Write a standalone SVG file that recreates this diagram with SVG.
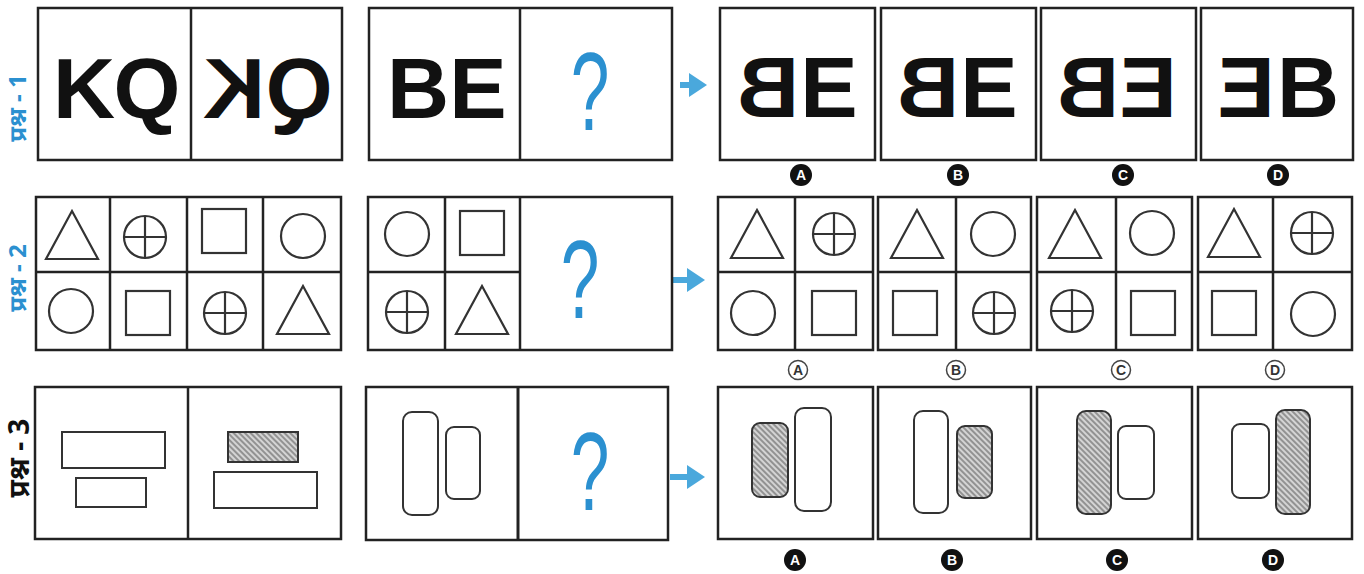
<svg xmlns="http://www.w3.org/2000/svg" width="1364" height="574" viewBox="0 0 1364 574">
<style>
.box{fill:#fff;stroke:#222;stroke-width:2.5}
.div{stroke:#222;stroke-width:2.5}
.sh{fill:none;stroke:#333;stroke-width:2.2}
.big{font-family:"Liberation Sans",Arial,sans-serif;font-weight:bold;font-size:86px;fill:#111;text-anchor:middle}
.q{font-family:"Liberation Sans",Arial,sans-serif;font-size:112px;fill:#2b90d0;text-anchor:middle}
.lab{font-family:"Noto Sans","DejaVu Sans",sans-serif;font-size:24px;font-weight:bold;text-anchor:middle}
.opf{fill:#111}
.opt{font-family:"Liberation Sans",Arial,sans-serif;font-weight:bold;font-size:14px;fill:#fff;text-anchor:middle}
.opo{fill:#fff;stroke:#444;stroke-width:1.5}
.opt2{font-family:"Liberation Sans",Arial,sans-serif;font-weight:bold;font-size:14px;fill:#333;text-anchor:middle}
.arr{stroke:#4aa8dc;stroke-width:6}
.rr{fill:#fff;stroke:#333;stroke-width:2}
.hr{fill:url(#hatch);stroke:#333;stroke-width:2}
</style>
<defs>
<pattern id="hatch" width="4" height="4" patternUnits="userSpaceOnUse" patternTransform="rotate(45)">
<rect width="4" height="4" fill="#d4d4d4"/>
<line x1="0" y1="1" x2="4" y2="1" stroke="#666" stroke-width="1.2"/>
</pattern>
<g id="tri"><polygon class="sh" points="0,-24 -26,24 26,24"/></g>
<g id="cir"><circle class="sh" r="22"/></g>
<g id="pc"><circle class="sh" r="21"/><line class="sh" x1="-21" y1="0" x2="21" y2="0"/><line class="sh" x1="0" y1="-21" x2="0" y2="21"/></g>
<g id="sq"><rect class="sh" x="-22" y="-22" width="44" height="44"/></g>
<marker id="ah" markerWidth="4" markerHeight="4" refX="1" refY="2" orient="auto" markerUnits="strokeWidth">
<path d="M0,0 L3,2 L0,4 Z" fill="#4aa8dc"/>
</marker>
</defs>
<rect width="1364" height="574" fill="#fff"/>

<!-- left labels -->
<g id="label1"><text class="lab" fill="#2b90d0" transform="translate(26,108) rotate(-90)">प्रश्न - 1</text></g>
<g id="label2"><text class="lab" fill="#2b90d0" transform="translate(26,278) rotate(-90)">प्रश्न - 2</text></g>
<g id="label3"><text class="lab" fill="#111" style="font-size:28px" transform="translate(29,458) rotate(-90)">प्रश्न - 3</text></g>

<!-- connectors -->
<g id="connectors">
<line class="arr" x1="680" y1="85" x2="695" y2="85" marker-end="url(#ah)"/>
<line class="arr" x1="670" y1="280" x2="693" y2="280" marker-end="url(#ah)"/>
<line class="arr" x1="670" y1="477" x2="693" y2="477" marker-end="url(#ah)"/>
</g>

<!-- Row 1 -->
<g id="r1-question">
<rect class="box" x="38" y="8" width="304" height="152"/>
<line class="div" x1="191" y1="8" x2="191" y2="160"/>
<text class="big" x="84" y="118">K</text>
<text class="big" x="147" y="118">Q</text>
<text class="big" transform="translate(234,118) scale(-1,1)">K</text>
<text class="big" transform="translate(299,118) scale(-1,1)">Q</text>
</g>
<g id="r1-problem">
<rect class="box" x="369" y="8" width="303" height="152"/>
<line class="div" x1="520" y1="8" x2="520" y2="160"/>
<text class="big" x="418" y="118">B</text>
<text class="big" x="478" y="118">E</text>
<text class="q" transform="translate(590,130) scale(0.62,1)">?</text>
</g>
<g id="r1-A">
<rect class="box" x="720" y="8" width="155" height="152"/>
<text class="big" transform="translate(768,117) scale(-1,1)">B</text>
<text class="big" x="829" y="117">E</text>
<circle class="opf" cx="801" cy="175" r="11"/><text class="opt" x="801" y="180">A</text>
</g>
<g id="r1-B">
<rect class="box" x="881" y="8" width="155" height="152"/>
<text class="big" transform="translate(928,117) scale(-1,1)">B</text>
<text class="big" x="989" y="117">E</text>
<circle class="opf" cx="958" cy="175" r="11"/><text class="opt" x="958" y="180">B</text>
</g>
<g id="r1-C">
<rect class="box" x="1041" y="8" width="155" height="152"/>
<text class="big" transform="translate(1088,117) scale(-1,1)">B</text>
<text class="big" transform="translate(1148,117) scale(-1,1)">E</text>
<circle class="opf" cx="1123" cy="175" r="11"/><text class="opt" x="1123" y="180">C</text>
</g>
<g id="r1-D">
<rect class="box" x="1201" y="8" width="152" height="152"/>
<text class="big" transform="translate(1246,117) scale(-1,1)">E</text>
<text class="big" x="1308" y="117">B</text>
<circle class="opf" cx="1278" cy="175" r="11"/><text class="opt" x="1278" y="180">D</text>
</g>

<!-- Row 2 -->
<g id="r2-question">
<rect class="box" x="36" y="197" width="305" height="153"/>
<line class="div" x1="36" y1="272" x2="341" y2="272"/>
<line class="div" x1="110" y1="197" x2="110" y2="350"/>
<line class="div" x1="187" y1="197" x2="187" y2="350"/>
<line class="div" x1="263" y1="197" x2="263" y2="350"/>
<use href="#tri" x="72" y="235"/>
<use href="#pc" x="145" y="237"/>
<use href="#sq" x="224" y="231"/>
<use href="#cir" x="303" y="236"/>
<use href="#cir" x="71" y="311"/>
<use href="#sq" x="148" y="313"/>
<use href="#pc" x="225" y="313"/>
<use href="#tri" x="303" y="310"/>
</g>
<g id="r2-problem">
<rect class="box" x="368" y="197" width="304" height="153"/>
<line class="div" x1="368" y1="272" x2="520" y2="272"/>
<line class="div" x1="445" y1="197" x2="445" y2="350"/>
<line class="div" x1="520" y1="197" x2="520" y2="350"/>
<use href="#cir" x="407" y="234"/>
<use href="#sq" x="482" y="233"/>
<use href="#pc" x="407" y="312"/>
<use href="#tri" x="482" y="310"/>
<text class="q" transform="translate(580,318) scale(0.62,1)">?</text>
</g>
<g id="r2-A">
<rect class="box" x="718" y="197" width="155" height="153"/>
<line class="div" x1="718" y1="272" x2="873" y2="272"/>
<line class="div" x1="795" y1="197" x2="795" y2="350"/>
<use href="#tri" x="757" y="234"/>
<use href="#pc" x="834" y="234"/>
<use href="#cir" x="753" y="313"/>
<use href="#sq" x="834" y="313"/>
<circle class="opo" cx="798" cy="370" r="9.5"/><text class="opt2" x="798" y="375">A</text>
</g>
<g id="r2-B">
<rect class="box" x="878" y="197" width="153" height="153"/>
<line class="div" x1="878" y1="272" x2="1031" y2="272"/>
<line class="div" x1="956" y1="197" x2="956" y2="350"/>
<use href="#tri" x="917" y="234"/>
<use href="#cir" x="993" y="234"/>
<use href="#sq" x="915" y="313"/>
<use href="#pc" x="994" y="313"/>
<circle class="opo" cx="956" cy="370" r="9.5"/><text class="opt2" x="956" y="375">B</text>
</g>
<g id="r2-C">
<rect class="box" x="1037" y="197" width="155" height="153"/>
<line class="div" x1="1037" y1="272" x2="1192" y2="272"/>
<line class="div" x1="1116" y1="197" x2="1116" y2="350"/>
<use href="#tri" x="1075" y="234"/>
<use href="#cir" x="1152" y="233"/>
<use href="#pc" x="1072" y="311"/>
<use href="#sq" x="1153" y="313"/>
<circle class="opo" cx="1121" cy="370" r="9.5"/><text class="opt2" x="1121" y="375">C</text>
</g>
<g id="r2-D">
<rect class="box" x="1198" y="197" width="154" height="153"/>
<line class="div" x1="1198" y1="272" x2="1352" y2="272"/>
<line class="div" x1="1273" y1="197" x2="1273" y2="350"/>
<use href="#tri" x="1234" y="233"/>
<use href="#pc" x="1312" y="233"/>
<use href="#sq" x="1234" y="313"/>
<use href="#cir" x="1313" y="314"/>
<circle class="opo" cx="1275" cy="370" r="9.5"/><text class="opt2" x="1275" y="375">D</text>
</g>

<!-- Row 3 -->
<g id="r3-question">
<rect class="box" x="35" y="387" width="306" height="152"/>
<line class="div" x1="188" y1="387" x2="188" y2="539"/>
<rect class="rr" x="62" y="432" width="103" height="36"/>
<rect class="rr" x="76" y="478" width="70" height="29"/>
<rect class="hr" x="228" y="432" width="70" height="30"/>
<rect class="rr" x="214" y="472" width="103" height="36"/>
</g>
<g id="r3-problem">
<rect class="box" x="366" y="387" width="302" height="153"/>
<line class="div" x1="518" y1="387" x2="518" y2="540" style="stroke-width:3"/>
<rect class="rr" x="403" y="412" width="35" height="103" rx="9"/>
<rect class="rr" x="446" y="427" width="34" height="72" rx="8"/>
<text class="q" transform="translate(590,510) scale(0.62,1)">?</text>
</g>
<g id="r3-A">
<rect class="box" x="718" y="387" width="155" height="152"/>
<rect class="hr" x="752" y="423" width="36" height="74" rx="8"/>
<rect class="rr" x="795" y="408" width="36" height="103" rx="9"/>
<circle class="opf" cx="795" cy="560" r="11"/><text class="opt" x="795" y="565">A</text>
</g>
<g id="r3-B">
<rect class="box" x="878" y="387" width="153" height="152"/>
<rect class="rr" x="914" y="411" width="34" height="102" rx="9"/>
<rect class="hr" x="957" y="426" width="35" height="72" rx="8"/>
<circle class="opf" cx="952" cy="560" r="11"/><text class="opt" x="952" y="565">B</text>
</g>
<g id="r3-C">
<rect class="box" x="1037" y="387" width="155" height="152"/>
<rect class="hr" x="1077" y="411" width="34" height="103" rx="9"/>
<rect class="rr" x="1118" y="426" width="36" height="73" rx="8"/>
<circle class="opf" cx="1117" cy="560" r="11"/><text class="opt" x="1117" y="565">C</text>
</g>
<g id="r3-D">
<rect class="box" x="1198" y="387" width="154" height="152"/>
<rect class="rr" x="1232" y="424" width="37" height="74" rx="8"/>
<rect class="hr" x="1276" y="410" width="34" height="104" rx="9"/>
<circle class="opf" cx="1273" cy="560" r="11"/><text class="opt" x="1273" y="565">D</text>
</g>
</svg>
